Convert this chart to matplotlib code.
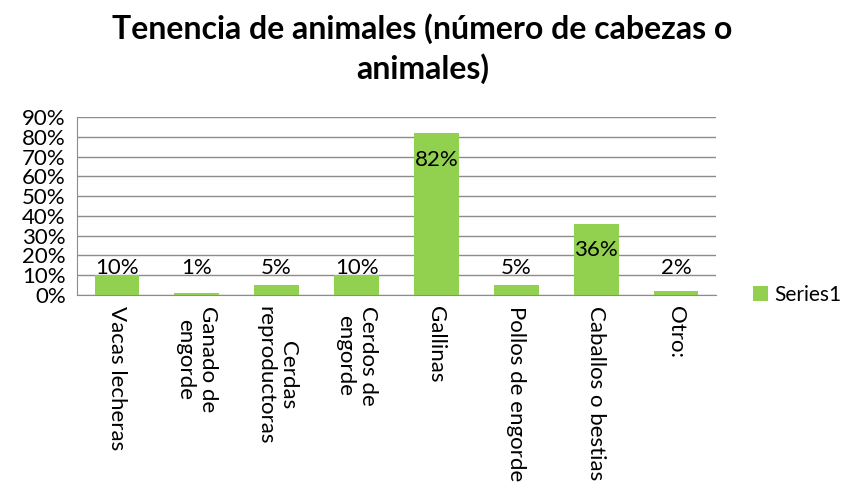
import matplotlib.pyplot as plt
from matplotlib.ticker import PercentFormatter

categories = ['Vacas lecheras', 'Ganado de\nengorde', 'Cerdas\nreproductoras', 'Cerdos de\nengorde',
              'Gallinas', 'Pollos de engorde', 'Caballos o bestias', 'Otro:']
values = [0.10, 0.01, 0.05, 0.10, 0.82, 0.05, 0.36, 0.02]
labels = ['10%', '1%', '5%', '10%', '82%', '5%', '36%', '2%']

plt.rcParams['font.family'] = ['Lato', 'DejaVu Sans']

fig = plt.figure(figsize=(8.45, 4.84), dpi=100)
ax = fig.add_axes([0.0911, 0.3905, 0.7562, 0.3678])

x = list(range(len(categories)))
ax.bar(x, values, width=0.56, color='#92D050', label='Series1', zorder=3)

for xi, v, lab in zip(x, values, labels):
    # labels sit a bit below the bar top, but not lower than ~13.5%
    ax.text(xi, max(v - 0.135, 0.135), lab, ha='center', va='center', fontsize=16, zorder=4)

ax.set_xlim(-0.5, len(categories) - 0.5)
ax.set_ylim(0, 0.9)
ax.set_yticks([i / 10 for i in range(10)])
ax.yaxis.set_major_formatter(PercentFormatter(1.0, decimals=0))
ax.grid(axis='y', color='#8c8c8c', linewidth=1, zorder=0)
ax.set_xticks(x)
ax.set_xticklabels(categories, rotation=270, ha='center', va='top', multialignment='center', fontsize=16)
ax.tick_params(axis='both', length=0, labelsize=16)
ax.tick_params(axis='x', pad=8)
ax.tick_params(axis='y', pad=8)

for s in ['top', 'right']:
    ax.spines[s].set_visible(False)
for s in ['left', 'bottom']:
    ax.spines[s].set_color('#8c8c8c')

fig.suptitle('Tenencia de animales (número de cabezas o\nanimales)', fontsize=23, fontweight='bold',
             x=0.5, y=0.972, linespacing=1.35)

ax.legend(loc='center left', bbox_to_anchor=(1.045, 0.0), frameon=False, fontsize=15,
          handlelength=0.7, handleheight=0.7, handletextpad=0.3, borderaxespad=0.0)

fig.savefig('out.png', dpi=100)
